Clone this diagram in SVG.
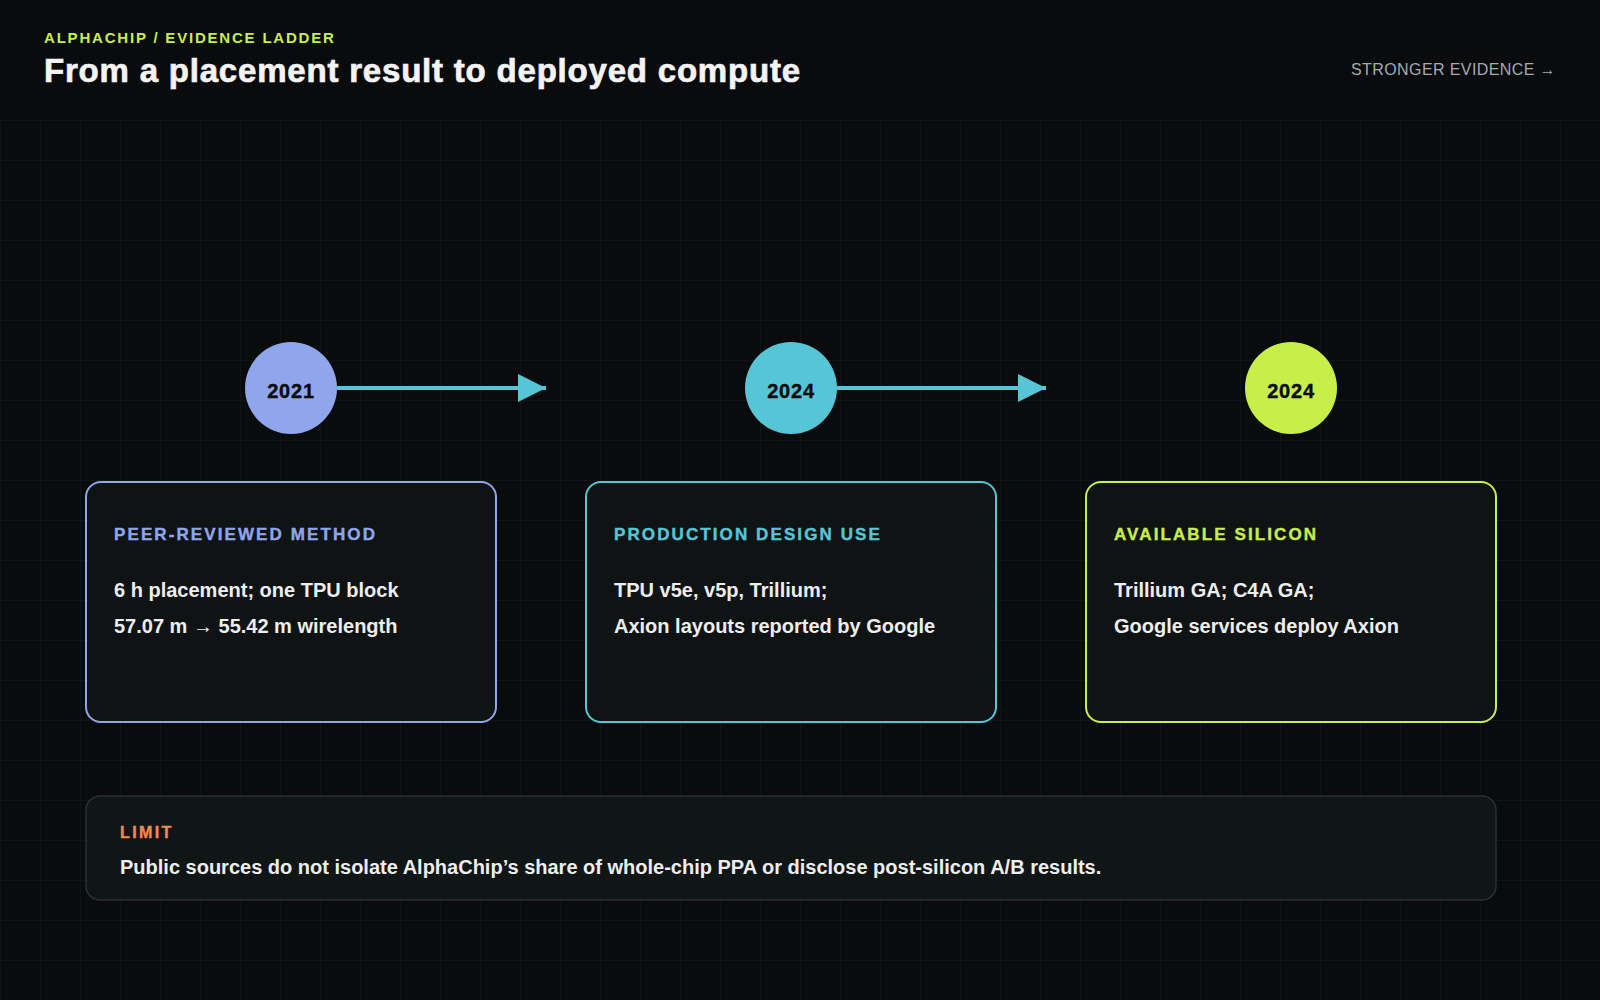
<svg xmlns="http://www.w3.org/2000/svg" width="1600" height="1000" viewBox="0 0 1600 1000">
  <defs>
    <pattern id="grid" x="0" y="0" width="40" height="40" patternUnits="userSpaceOnUse">
      <path d="M40 0 L0 0 L0 40" fill="none" stroke="#161d1d" stroke-width="1"/>
    </pattern>
    <marker id="arrowhead" markerWidth="7" markerHeight="7" refX="7" refY="3.5" orient="auto" markerUnits="strokeWidth">
      <path d="M0 0 L7 3.5 L0 7 Z" fill="#56c6d6"/>
    </marker>
    <style>
      .sans { font-family: "Liberation Sans", Arial, Helvetica, sans-serif; }
      .kicker { font-size: 15px; font-weight: 700; fill: #c8ee48; letter-spacing: 1.8px; }
      .title { font-size: 33px; font-weight: 700; fill: #f4f4f4; letter-spacing: 0.8px; stroke: #f4f4f4; stroke-width: 0.7px; }
      .legend { font-size: 16px; font-weight: 400; fill: #a6aaae; letter-spacing: 0.4px; }
      .year { font-size: 20px; font-weight: 700; fill: #0a0c10; letter-spacing: 0.8px; stroke: #0a0c10; stroke-width: 0.4px; }
      .card { fill: #0f1314; stroke-width: 2; }
      .cardtitle { font-size: 17px; font-weight: 700; letter-spacing: 2.1px; stroke-width: 0.4px; }
      .body { font-size: 20px; font-weight: 700; fill: #eeeeee; }
      .connector { stroke: #56c6d6; stroke-width: 4; fill: none; }
    </style>
  </defs>

  <rect x="0" y="0" width="1600" height="1000" fill="#090b0d"/>
  <rect x="0" y="120" width="1600" height="880" fill="url(#grid)"/>

  <g id="header" class="sans">
    <text x="44" y="43" class="sans kicker">ALPHACHIP / EVIDENCE LADDER</text>
    <text x="44" y="82" class="sans title">From a placement result to deployed compute</text>
    <text x="1556" y="75" text-anchor="end" class="sans legend">STRONGER EVIDENCE →</text>
  </g>

  <g id="connectors">
    <line x1="337" y1="388" x2="546" y2="388" class="connector" marker-end="url(#arrowhead)"/>
    <line x1="837" y1="388" x2="1046" y2="388" class="connector" marker-end="url(#arrowhead)"/>
  </g>

  <g id="node-2021">
    <circle cx="291" cy="388" r="46" fill="#8fa5ec"/>
    <text x="291" y="398" text-anchor="middle" class="sans year">2021</text>
    <rect x="86" y="482" width="410" height="240" rx="15" class="card" stroke="#8fa5ec"/>
    <text x="114" y="540" class="sans cardtitle" fill="#8fa5ec" stroke="#8fa5ec">PEER-REVIEWED METHOD</text>
    <text x="114" y="597" class="sans body">6 h placement; one TPU block</text>
    <text x="114" y="633" class="sans body">57.07 m → 55.42 m wirelength</text>
  </g>

  <g id="node-2024-design">
    <circle cx="791" cy="388" r="46" fill="#56c6d6"/>
    <text x="791" y="398" text-anchor="middle" class="sans year">2024</text>
    <rect x="586" y="482" width="410" height="240" rx="15" class="card" stroke="#56c6d6"/>
    <text x="614" y="540" class="sans cardtitle" fill="#56c6d6" stroke="#56c6d6">PRODUCTION DESIGN USE</text>
    <text x="614" y="597" class="sans body">TPU v5e, v5p, Trillium;</text>
    <text x="614" y="633" class="sans body">Axion layouts reported by Google</text>
  </g>

  <g id="node-2024-silicon">
    <circle cx="1291" cy="388" r="46" fill="#c8ee48"/>
    <text x="1291" y="398" text-anchor="middle" class="sans year">2024</text>
    <rect x="1086" y="482" width="410" height="240" rx="15" class="card" stroke="#c8ee48"/>
    <text x="1114" y="540" class="sans cardtitle" fill="#c8ee48" stroke="#c8ee48">AVAILABLE SILICON</text>
    <text x="1114" y="597" class="sans body">Trillium GA; C4A GA;</text>
    <text x="1114" y="633" class="sans body">Google services deploy Axion</text>
  </g>

  <g id="limit">
    <rect x="86" y="796" width="1410" height="104" rx="14" fill="#101516" stroke="#2a3131" stroke-width="1.5"/>
    <text x="120" y="838" class="sans cardtitle" style="font-size:16px;letter-spacing:2.4px" fill="#f08a4c" stroke="#f08a4c">LIMIT</text>
    <text x="120" y="874" class="sans body">Public sources do not isolate AlphaChip’s share of whole-chip PPA or disclose post-silicon A/B results.</text>
  </g>
</svg>
